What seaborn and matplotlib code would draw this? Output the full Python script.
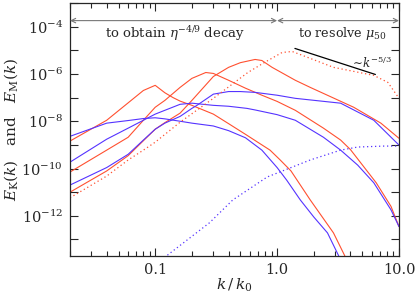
import numpy as np
import matplotlib
matplotlib.use("Agg")
import matplotlib.pyplot as plt
import matplotlib.ticker as mticker
import seaborn as sns

# spectra (k/k0 and E)
# run A (peak near k=0.1)
k_a_M = [0.02, 0.04, 0.06, 0.08, 0.10, 0.12, 0.14, 0.16, 0.20, 0.30, 0.40, 0.55, 0.75, 0.875, 1.06, 1.3, 1.87, 2.9, 3.58, 4.2]
E_a_M = [1.45e-9, 1.1e-8, 6.0e-8, 2.0e-7, 3.3e-7, 1.6e-7, 1.0e-7, 7.1e-8, 4.7e-8, 2.0e-8, 7.9e-9, 2.8e-9,
         1.0e-9, 6.0e-10, 2.3e-10, 7.9e-11, 4.7e-12, 1.9e-13, 2.1e-14, 2.5e-15]
k_a_K = [0.02, 0.04, 0.06, 0.08, 0.10, 0.12, 0.16, 0.20, 0.30, 0.40, 0.55, 0.75, 1.0, 1.2, 1.55, 2.0, 2.59, 3.19, 3.7]
E_a_K = [2.3e-9, 8.3e-9, 1.07e-8, 1.3e-8, 1.4e-8, 1.26e-8, 1.0e-8, 8.3e-9, 6.3e-9, 4.0e-9, 2.0e-9, 6.0e-10,
         1.1e-10, 3.2e-11, 4.7e-12, 8.9e-13, 1.9e-13, 2.1e-14, 2.5e-15]

# run B (peak near k=0.27)
k_b_M = [0.02, 0.04, 0.06, 0.08, 0.10, 0.12, 0.16, 0.20, 0.26, 0.30, 0.40, 0.55, 0.75, 1.0, 1.41, 2.4, 3.32, 4.0, 6.5, 8.6, 10.0]
E_b_M = [7.1e-11, 6.0e-10, 2.1e-9, 1.1e-8, 3.9e-8, 7.6e-8, 2.7e-7, 6.5e-7, 1.15e-6, 1.05e-6, 5.4e-7, 2.5e-7,
         1.26e-7, 6.9e-8, 2.9e-8, 5.1e-9, 1.6e-9, 6.3e-10, 2.5e-11, 2.5e-12, 3.5e-13]
k_b_K = [0.02, 0.04, 0.06, 0.08, 0.10, 0.12, 0.16, 0.20, 0.30, 0.40, 0.565, 0.66, 1.0, 1.41, 2.4, 3.32, 4.58, 6.21, 8.59, 10.0]
E_b_K = [1.86e-10, 1.74e-9, 5.1e-9, 1.1e-8, 2.0e-8, 2.9e-8, 5.2e-8, 5.8e-8, 4.7e-8, 4.3e-8, 3.5e-8, 3.0e-8,
         1.9e-8, 1.1e-8, 2.1e-9, 6.0e-10, 1.4e-10, 2.5e-11, 1.8e-12, 3.5e-13]

# run C (peak near k=0.7)
k_c_M = [0.02, 0.04, 0.06, 0.08, 0.10, 0.12, 0.16, 0.20, 0.30, 0.40, 0.50, 0.66, 0.75, 0.91, 1.41, 1.87, 4.25, 7.1, 10.0]
E_c_M = [1.0e-11, 7.9e-11, 3.5e-10, 1.5e-9, 4.6e-9, 8.7e-9, 2.2e-8, 7.6e-8, 7.8e-7, 1.9e-6, 3.0e-6, 4.1e-6,
         3.7e-6, 1.9e-6, 5.4e-7, 2.7e-7, 3.9e-8, 8.3e-9, 1.9e-9]
k_c_K = [0.02, 0.04, 0.06, 0.08, 0.10, 0.12, 0.16, 0.20, 0.22, 0.30, 0.40, 0.50, 0.66, 1.0, 1.41, 3.32, 6.21, 10.0]
E_c_K = [2.0e-11, 1.1e-10, 4.0e-10, 1.6e-9, 4.6e-9, 8.3e-9, 1.6e-8, 3.5e-8, 4.7e-8, 1.4e-7, 1.8e-7, 1.8e-7,
         1.66e-7, 1.26e-7, 9.3e-8, 5.8e-8, 1.1e-8, 9.8e-10]

# initial spectra (dotted)
k_0_M = [0.02, 0.04, 0.06, 0.08, 0.10, 0.16, 0.30, 0.575, 0.80, 1.10, 1.33, 1.55, 2.9, 6.21, 8.1, 10.0]
E_0_M = [5.8e-12, 4.8e-11, 2.3e-10, 6.0e-10, 1.3e-9, 9.1e-9, 9.3e-8, 1.15e-6, 3.2e-6, 8.1e-6, 8.9e-6, 6.6e-6,
         1.9e-6, 8.7e-7, 4.4e-7, 9.3e-8]
k_0_K = [0.1, 0.125, 0.279, 0.433, 0.83, 1.87, 3.32, 4.58, 7.52, 10.0]
E_0_K = [7.9e-15, 2.1e-14, 5.1e-13, 4.7e-12, 4.4e-11, 2.3e-10, 6.0e-10, 8.1e-10, 8.9e-10, 8.9e-10]

# k^-5/3 guide
slope_k = [1.4, 6.4]
slope_E = [1.2e-5, 9.5e-7]

red = '#ff5030'
blue = '#5533ff'

sns.set_style('ticks')
plt.rcParams['font.family'] = ['DejaVu Serif']
plt.rcParams['mathtext.fontset'] = 'dejavuserif'

fig = plt.figure(figsize=(4.15, 3.0), dpi=100)
ax = fig.add_axes([70/415, 44/300, 329/415, 253/300])

lw = 0.8
for k, E in [(k_a_M, E_a_M), (k_b_M, E_b_M), (k_c_M, E_c_M)]:
    sns.lineplot(x=k, y=E, ax=ax, color=red, lw=lw)
for k, E in [(k_a_K, E_a_K), (k_b_K, E_b_K), (k_c_K, E_c_K)]:
    sns.lineplot(x=k, y=E, ax=ax, color=blue, lw=lw)
sns.lineplot(x=k_0_M, y=E_0_M, ax=ax, color=red, lw=0.9, linestyle=(0, (1, 2.2)))
sns.lineplot(x=k_0_K, y=E_0_K, ax=ax, color=blue, lw=0.9, linestyle=(0, (1, 2.2)))
sns.lineplot(x=slope_k, y=slope_E, ax=ax, color='black', lw=0.9)

ax.set_xscale('log')
ax.set_yscale('log')
ax.set_xlim(0.02, 10.0)
ax.set_ylim(2e-14, 1e-3)

# ticks
ax.xaxis.set_major_locator(mticker.FixedLocator([0.1, 1.0, 10.0]))
ax.xaxis.set_major_formatter(mticker.FixedFormatter(['0.1', '1.0', '10.0']))
ax.xaxis.set_minor_locator(mticker.LogLocator(base=10, subs=np.arange(2, 10)))
ax.xaxis.set_minor_formatter(mticker.NullFormatter())
ydec = [10.0**e for e in range(-13, -2)]
ax.yaxis.set_major_locator(mticker.FixedLocator(ydec))
ax.yaxis.set_major_formatter(mticker.FuncFormatter(
    lambda v, p: r'$10^{%d}$' % round(np.log10(v)) if round(np.log10(v)) % 2 == 0 and -12 <= round(np.log10(v)) <= -4 else ''))
ax.yaxis.set_minor_locator(mticker.NullLocator())
ax.tick_params(which='both', direction='in', top=True, right=True, labelsize=10.5, width=0.8)
ax.tick_params(which='major', length=6, pad=5)
ax.tick_params(which='minor', length=3.5)
for s in ax.spines.values():
    s.set_linewidth(0.9)

ax.set_xlabel(r'$k\,/\,k_0$', fontsize=11, labelpad=0)
ax.set_ylabel(r'$E_{\rm K}(k)$   and   $E_{\rm M}(k)$', fontsize=11, labelpad=1)

# range arrows
ax.annotate('', xy=(0.02, 1.8e-4), xytext=(1.0, 1.8e-4),
            arrowprops=dict(arrowstyle='<->', color='#777777', lw=0.8, shrinkA=0, shrinkB=0, mutation_scale=8))
ax.annotate('', xy=(1.0, 1.8e-4), xytext=(10.0, 1.8e-4),
            arrowprops=dict(arrowstyle='<->', color='#777777', lw=0.8, shrinkA=0, shrinkB=0, mutation_scale=8))
ax.text(0.145, 5.0e-5, r'to obtain $\eta^{-4/9}$ decay', ha='center', va='center', fontsize=9.5)
ax.text(3.4, 5.0e-5, r'to resolve $\mu_{50}$', ha='center', va='center', fontsize=9.2)
ax.text(5.9, 3.0e-6, r'$\sim\!k^{-5/3}$', ha='center', va='center', fontsize=8.5)

fig.savefig('out.png', dpi=100)
